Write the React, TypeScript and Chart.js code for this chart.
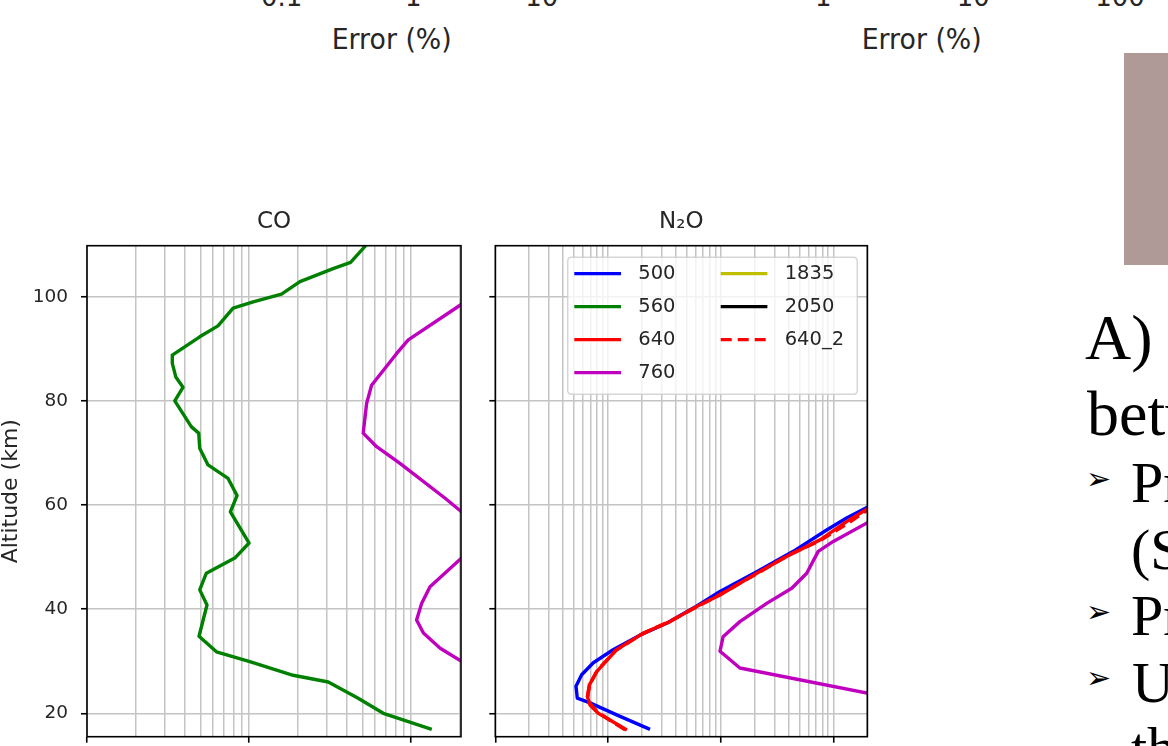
import React, { useEffect, useRef } from 'react';
import { Chart, registerables } from 'chart.js';

Chart.register(...registerables);

// ---------------------------------------------------------------------------
// Retrieval error profiles: error (%) against altitude (km)
// ---------------------------------------------------------------------------

const altitudeTickLabels = [20, 40, 60, 80, 100];
const altitudeRange = [15.5, 109.8];
const coErrorRange = [0.1, 20.3];
const n2oErrorRange = [0.1, 200];

// CO panel
const co560Altitude = [16.9, 20.0, 22.9, 26.0, 27.3, 29.9, 31.8, 34.8, 40.8, 43.7, 46.9, 49.8, 52.7, 58.7, 61.8, 65.1, 67.7, 70.9, 73.8, 75.0, 80.0, 82.6, 84.6, 87.2, 88.8, 92.3, 94.4, 97.8, 99.0, 100.5, 102.9, 105.4, 106.6, 109.8];
const co560Error = [13.4, 6.73, 4.71, 3.08, 1.87, 1.01, 0.629, 0.491, 0.55, 0.496, 0.545, 0.816, 1.0, 0.767, 0.843, 0.742, 0.558, 0.496, 0.489, 0.441, 0.348, 0.391, 0.353, 0.336, 0.336, 0.496, 0.643, 0.797, 1.06, 1.585, 2.06, 3.3, 4.23, 5.24];

const co760Altitude = [17, 24, 28, 32.5, 35.4, 37.9, 41.1, 44.3, 51, 53, 56, 61.3, 68.0, 71.2, 73.8, 79.5, 83.0, 89.1, 91.7, 99.5, 104, 110];
const co760Error = [70, 45, 26, 15.1, 11.9, 10.8, 11.6, 13.07, 22.5, 28, 26, 16.2, 8.53, 6.12, 5.06, 5.31, 5.7, 8.14, 9.6, 22.7, 35, 60];

// N2O panel
const n2o500Altitude = [16.9, 19.4, 22.0, 22.9, 25.2, 27.4, 29.7, 32.2, 35.0, 37.3, 40.2, 43.4, 47.2, 51.1, 55.2, 57.5, 62.0];
const n2o500Error = [2.36, 1.28, 0.692, 0.534, 0.52, 0.584, 0.741, 1.11, 1.92, 3.32, 5.71, 9.86, 20.9, 44.1, 87.2, 131, 330];

const n2o640Altitude = [16.8, 18.7, 20.0, 21.6, 23.2, 25.4, 28.0, 32.2, 35.4, 37.6, 40.5, 42.7, 46.9, 50.1, 53.3, 56.8, 62.0];
const n2o640Error = [1.47, 1.04, 0.82, 0.692, 0.656, 0.682, 0.794, 1.19, 2.06, 3.55, 6.12, 9.86, 20.9, 38.5, 76.1, 131, 320];

const n2o640bAltitude = [16.8, 18.9, 20.3, 21.8, 23.5, 25.6, 28.3, 32.0, 35.2, 37.8, 40.3, 43.0, 46.6, 50.4, 53.0, 56.5, 62.0];
const n2o640bError = [1.42, 1.0, 0.8, 0.7, 0.664, 0.69, 0.81, 1.16, 2.0, 3.62, 6.0, 10.2, 20.2, 40.0, 74.0, 135, 320];

const n2o760Altitude = [17, 22, 28.7, 31.9, 34.7, 37.6, 41.1, 44.0, 46.9, 51.1, 53.0, 59.0];
const n2o760Error = [900, 550, 14.8, 9.86, 10.5, 14.8, 25.6, 42.7, 58.0, 73.4, 99.8, 320];

// ---------------------------------------------------------------------------

const SANS = '"DejaVu Sans", sans-serif';
const SERIF = '"Liberation Serif", "Times New Roman", serif';
const TEXT = '#262626';
const GRID = '#c4c4c4';

const CANVAS_H = 600;
const PLOT_TOP = 45.7;
const PLOT_BOTTOM = 536.7;

const isDecade = (v: number) => {
  const l = Math.log10(v);
  return Math.abs(l - Math.round(l)) < 1e-6;
};

// 1..9 x 10^n positions inside [min, max] for the log gridlines
function logGrid(min: number, max: number) {
  const out: { value: number; major: boolean }[] = [];
  for (let e = Math.floor(Math.log10(min)); e <= Math.ceil(Math.log10(max)); e++) {
    for (let m = 1; m <= 9; m++) {
      const v = Number((m * Math.pow(10, e)).toPrecision(12));
      if (v >= min * (1 - 1e-9) && v <= max * (1 + 1e-9)) out.push({ value: v, major: m === 1 });
    }
  }
  return out;
}

type Series = { label: string; color: string; alt: number[]; err: number[]; dash?: number[] };

const toPoints = (alt: number[], err: number[]) => alt.map((a, i) => ({ x: err[i], y: a }));

const framePlugin = {
  id: 'axesFrame',
  afterDatasetsDraw(chart: any) {
    const { ctx, chartArea: a } = chart;
    ctx.save();
    ctx.strokeStyle = '#000';
    ctx.lineWidth = 1.6;
    ctx.strokeRect(a.left, a.top, a.right - a.left, a.bottom - a.top);
    ctx.restore();
  },
};

// Two-column framed legend placed inside the plot area (upper right)
const boxLegendPlugin = {
  id: 'boxLegend',
  afterDatasetsDraw(chart: any, _args: any, o: any) {
    if (!o || !o.display) return;
    const { ctx, chartArea: a } = chart;
    const right = a.right - o.insetRight;
    const left = right - o.width;
    const top = a.top + o.insetTop;
    const r = 4;
    ctx.save();
    ctx.beginPath();
    ctx.moveTo(left + r, top);
    ctx.lineTo(right - r, top);
    ctx.quadraticCurveTo(right, top, right, top + r);
    ctx.lineTo(right, top + o.height - r);
    ctx.quadraticCurveTo(right, top + o.height, right - r, top + o.height);
    ctx.lineTo(left + r, top + o.height);
    ctx.quadraticCurveTo(left, top + o.height, left, top + o.height - r);
    ctx.lineTo(left, top + r);
    ctx.quadraticCurveTo(left, top, left + r, top);
    ctx.closePath();
    ctx.fillStyle = 'rgba(255,255,255,0.8)';
    ctx.fill();
    ctx.strokeStyle = 'rgba(204,204,204,0.8)';
    ctx.lineWidth = 1.5;
    ctx.stroke();

    ctx.font = `${o.fontSize}px ${SANS}`;
    ctx.textBaseline = 'middle';
    ctx.textAlign = 'left';
    chart.data.datasets.forEach((ds: any, i: number) => {
      const col = Math.floor(i / o.rows);
      const row = i % o.rows;
      const x0 = left + o.padX + col * o.colStep;
      const y = top + o.rowStart + row * o.rowStep;
      ctx.strokeStyle = ds.borderColor;
      ctx.lineWidth = ds.borderWidth;
      ctx.setLineDash(ds.borderDash || []);
      ctx.beginPath();
      ctx.moveTo(x0, y);
      ctx.lineTo(x0 + o.handle, y);
      ctx.stroke();
      ctx.setLineDash([]);
      ctx.fillStyle = TEXT;
      ctx.fillText(ds.label, x0 + o.handle + o.gap, y);
    });
    ctx.restore();
  },
};

function buildConfig(p: {
  title: string;
  series: Series[];
  xRange: number[];
  plotLeft: number;
  plotRight: number;
  canvasWidth: number;
  showYLabels: boolean;
  legend: boolean;
}): any {
  const [xMin, xMax] = p.xRange;
  return {
    type: 'line',
    data: {
      datasets: p.series.map((s, i) => ({
        label: s.label,
        data: toPoints(s.alt, s.err),
        borderColor: s.color,
        backgroundColor: s.color,
        borderWidth: 3.4,
        borderDash: s.dash || [],
        borderJoinStyle: 'round',
        pointRadius: 0,
        pointHoverRadius: 0,
        tension: 0,
        fill: false,
        order: p.series.length - i,
      })),
    },
    options: {
      responsive: false,
      animation: false,
      events: [],
      layout: { padding: { left: 0, top: 0, bottom: 0, right: p.canvasWidth - p.plotRight } },
      plugins: {
        legend: { display: false },
        tooltip: { enabled: false },
        title: {
          display: true,
          text: p.title,
          fullSize: false,
          color: TEXT,
          font: { family: SANS, size: 23, weight: 'normal', lineHeight: 1.2 },
          padding: { top: 8.4, bottom: PLOT_TOP - 8.4 - 27.6 },
        },
        boxLegend: {
          display: p.legend,
          insetRight: 10,
          insetTop: 11.6,
          width: 289.6,
          height: 137,
          padX: 6.6,
          colStep: 146.4,
          handle: 46.7,
          gap: 17.3,
          rows: 4,
          rowStart: 16.3,
          rowStep: 33,
          fontSize: 19.5,
        },
      },
      scales: {
        x: {
          type: 'logarithmic',
          position: 'bottom',
          min: xMin,
          max: xMax,
          afterBuildTicks: (s: any) => {
            s.ticks = logGrid(xMin, xMax);
          },
          afterFit: (s: any) => {
            s.height = CANVAS_H - PLOT_BOTTOM;
            s.paddingLeft = 0;
            s.paddingRight = 0;
          },
          ticks: {
            autoSkip: false,
            maxRotation: 0,
            minRotation: 0,
            padding: 8,
            color: TEXT,
            font: { family: SANS, size: 18.5 },
            callback: (v: number) => (isDecade(v) ? String(v) : ''),
          },
          grid: {
            color: GRID,
            lineWidth: 1.5,
            drawTicks: true,
            tickLength: 6,
            tickWidth: 1.6,
            tickColor: (c: any) => (c.tick && isDecade(c.tick.value) ? '#000' : 'rgba(0,0,0,0)'),
          },
          border: { display: false },
        },
        y: {
          type: 'linear',
          position: 'left',
          min: altitudeRange[0],
          max: altitudeRange[1],
          afterBuildTicks: (s: any) => {
            s.ticks = altitudeTickLabels.map((v) => ({ value: v }));
          },
          afterFit: (s: any) => {
            s.width = p.plotLeft;
            s.paddingTop = 0;
            s.paddingBottom = 0;
          },
          ticks: {
            display: p.showYLabels,
            padding: 13,
            color: TEXT,
            font: { family: SANS, size: 18.5 },
          },
          grid: {
            color: GRID,
            lineWidth: 1.5,
            drawTicks: true,
            tickLength: 6,
            tickWidth: 1.6,
            tickColor: '#000',
          },
          border: { display: false },
          title: {
            display: p.showYLabels,
            text: 'Altitude (km)',
            color: TEXT,
            font: { family: SANS, size: 22, lineHeight: 1 },
            padding: { top: 0, bottom: 0 },
          },
        },
      },
    },
    plugins: [framePlugin, boxLegendPlugin],
  };
}

const coSeries: Series[] = [
  { label: '560', color: '#008000', alt: co560Altitude, err: co560Error },
  { label: '760', color: '#bf00bf', alt: co760Altitude, err: co760Error },
];

const n2oSeries: Series[] = [
  { label: '500', color: '#0000ff', alt: n2o500Altitude, err: n2o500Error },
  { label: '560', color: '#008000', alt: [], err: [] },
  { label: '640', color: '#ff0000', alt: n2o640Altitude, err: n2o640Error },
  { label: '760', color: '#bf00bf', alt: n2o760Altitude, err: n2o760Error },
  { label: '1835', color: '#bfbf00', alt: [], err: [] },
  { label: '2050', color: '#000000', alt: [], err: [] },
  { label: '640_2', color: '#ff0000', alt: n2o640bAltitude, err: n2o640bError, dash: [11, 6] },
];

export default function App() {
  const coRef = useRef<HTMLCanvasElement>(null);
  const n2oRef = useRef<HTMLCanvasElement>(null);

  useEffect(() => {
    const charts = [
      new Chart(
        coRef.current as HTMLCanvasElement,
        buildConfig({
          title: 'CO',
          series: coSeries,
          xRange: coErrorRange,
          plotLeft: 87,
          plotRight: 461,
          canvasWidth: 480,
          showYLabels: true,
          legend: false,
        })
      ),
      new Chart(
        n2oRef.current as HTMLCanvasElement,
        buildConfig({
          title: 'N₂O',
          series: n2oSeries,
          xRange: n2oErrorRange,
          plotLeft: 15.3,
          plotRight: 387.3,
          canvasWidth: 420,
          showYLabels: false,
          legend: true,
        })
      ),
    ];
    return () => charts.forEach((c) => c.destroy());
  }, []);

  return (
    <div
      style={{
        position: 'absolute',
        left: 0,
        top: 0,
        width: 1168,
        height: 746,
        overflow: 'hidden',
        background: '#ffffff',
      }}
    >
      <svg width={1168} height={746} style={{ position: 'absolute', left: 0, top: 0 }}>
        {/* lower edge of the panel row above: tick labels and axis titles */}
        <g fontFamily={SANS} fill={TEXT} textAnchor="middle" fontSize={26}>
          <text x={281.7} y={5.5}>0.1</text>
          <text x={413.3} y={5.5}>1</text>
          <text x={541.7} y={5.5}>10</text>
          <text x={823.3} y={5.5}>1</text>
          <text x={973.3} y={5.5}>10</text>
          <text x={1120} y={5.5}>100</text>
          <text x={391.7} y={48.5} fontSize={28} textLength={120} lengthAdjust="spacingAndGlyphs">
            Error (%)
          </text>
          <text x={921.7} y={48.5} fontSize={28} textLength={120} lengthAdjust="spacingAndGlyphs">
            Error (%)
          </text>
        </g>
        <rect x={1124} y={53} width={44} height={212} fill="#b09a98" />
        {/* slide text column */}
        <g fontFamily={SERIF} fill="#000">
          <text x={1085} y={359} fontSize={64}>A)</text>
          <text x={1087} y={435} fontSize={64}>between</text>
          <text x={1086} y={478} fontSize={30} fontFamily={SANS} dominantBaseline="central">➢</text>
          <text x={1131} y={501.7} fontSize={58}>Pr</text>
          <text x={1131} y={569} fontSize={58}>(S</text>
          <text x={1086} y={611} fontSize={30} fontFamily={SANS} dominantBaseline="central">➢</text>
          <text x={1131} y={635} fontSize={58}>Pr</text>
          <text x={1086} y={677} fontSize={30} fontFamily={SANS} dominantBaseline="central">➢</text>
          <text x={1132} y={701.7} fontSize={58}>U</text>
          <text x={1131} y={767} fontSize={58}>th</text>
        </g>
      </svg>
      <canvas
        ref={coRef}
        width={480}
        height={CANVAS_H}
        style={{ position: 'absolute', left: 0, top: 200, width: 480, height: CANVAS_H }}
      />
      <canvas
        ref={n2oRef}
        width={420}
        height={CANVAS_H}
        style={{ position: 'absolute', left: 480, top: 200, width: 420, height: CANVAS_H }}
      />
    </div>
  );
}
